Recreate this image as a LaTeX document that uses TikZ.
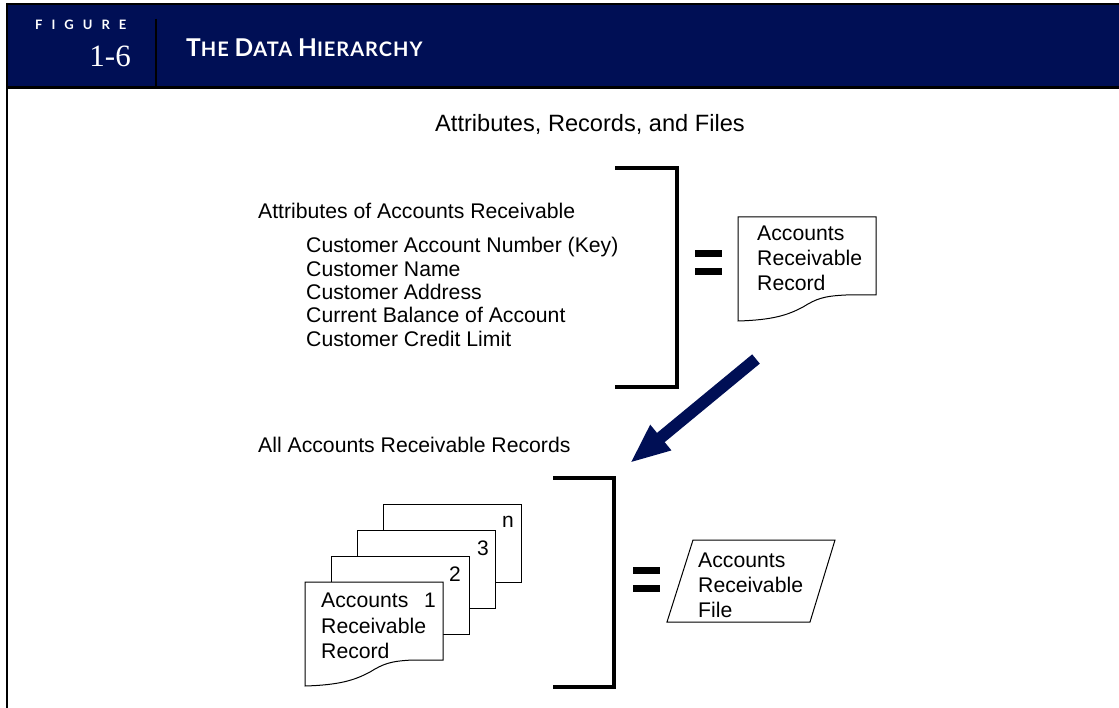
\documentclass[tikz,border=0pt]{standalone}
\usepackage{fontspec}
\setmainfont{Liberation Sans}
\newfontfamily\hdrfont{Lato}
\newfontfamily\numfont{Liberation Serif}
\usetikzlibrary{arrows.meta}
\definecolor{navy}{HTML}{000F55}
\begin{document}
\begin{tikzpicture}[x=1pt,y=-1pt,
  txt/.style={anchor=base west,inner sep=0pt,font=\fontsize{21.2}{24}\selectfont},
  numlbl/.style={anchor=base,inner sep=0pt,font=\fontsize{21}{24}\selectfont},
  docbox/.style={draw=black,line width=1pt,fill=white,line join=miter},
  brk/.style={line width=4pt,line cap=butt,line join=miter},
  eqbar/.style={fill=black},
  hdrline/.style={line width=2.2pt}]
\useasboundingbox (0,0) rectangle (1119,708);
% ---------- header ----------
\fill[navy] (7,4) rectangle (1119,88);
\draw[hdrline] (7,4) -- (1119,4);
\draw[hdrline] (7,87.5) -- (1119,87.5);
\draw[line width=2.5pt] (7,3) -- (7,708);
\draw[line width=2.5pt] (156,19) -- (156,88);
\node[anchor=base west,inner sep=0pt,text=white,font=\hdrfont\bfseries\fontsize{13}{14}\selectfont] (figword) at (35,29.5)
  {F\hspace{9pt}I\hspace{9pt}G\hspace{9pt}U\hspace{9pt}R\hspace{9pt}E};
\node[anchor=base east,inner sep=0pt,text=white,font=\numfont\fontsize{31}{31}\selectfont] (fignum) at (131,67) {1-6};
\node[anchor=base west,inner sep=0pt,text=white,font=\hdrfont\bfseries] (figtitle) at (186,57)
  {\addfontfeature{LetterSpace=5}\fontsize{24.5}{24}\selectfont T\fontsize{20}{24}\selectfont HE
   \fontsize{24.5}{24}\selectfont D\fontsize{20}{24}\selectfont ATA
   \fontsize{24.5}{24}\selectfont H\fontsize{20}{24}\selectfont IERARCHY};
% ---------- body ----------
\node[anchor=base,inner sep=0pt,font=\fontsize{23.6}{26}\selectfont] (title) at (590,132) {Attributes, Records, and Files};
\node[txt] (attrhead) at (258,219) {Attributes of Accounts Receivable};
\node[txt] (attr1) at (306,253) {Customer Account Number (Key)};
\node[txt] (attr2) at (306,277) {Customer Name};
\node[txt] (attr3) at (306,300) {Customer Address};
\node[txt] (attr4) at (306,323) {Current Balance of Account};
\node[txt] (attr5) at (306,347) {Customer Credit Limit};
% bracket 1 and equals
\draw[brk] (615,168) -- (677,168) -- (677,387) -- (615,387);
\fill[eqbar] (695,250) rectangle (722,257);
\fill[eqbar] (695,268) rectangle (722,275);
% record document
\begin{scope}[shift={(738,217)}]
\draw[docbox] (0,0) -- (138,0) -- (138,78) -- (108,78)
  .. controls (85,79) and (78,82) .. (65,90)
  .. controls (50,98) and (35,103) .. (0,104) -- cycle;
\end{scope}
\node[txt] (rec1) at (757,241) {Accounts};
\node[txt] (rec2) at (757,266) {Receivable};
\node[txt] (rec3) at (757,291) {Record};
% arrow
\coordinate (arrS) at (756,359);
\coordinate (arrE) at (630,463);
\draw[navy,line width=12pt,-{Triangle[width=30pt,length=40pt]}] (arrS) -- (arrE);
% all records
\node[txt] (allhead) at (258,452) {All Accounts Receivable Records};
% stacked documents
\draw[docbox] (383,504) rectangle (521,582);
\node[numlbl] (numn) at (508,527) {n};
\draw[docbox] (357,530) rectangle (495,608);
\node[numlbl] (num3) at (483,555) {3};
\draw[docbox] (331,556) rectangle (469,634);
\node[numlbl] (num2) at (455,581) {2};
\begin{scope}[shift={(305,582)}]
\draw[docbox] (0,0) -- (138,0) -- (138,78) -- (108,78)
  .. controls (85,79) and (78,82) .. (65,90)
  .. controls (50,98) and (35,103) .. (0,104) -- cycle;
\end{scope}
\node[numlbl] (num1) at (430,607) {1};
\node[txt] (srec1) at (321,607) {Accounts};
\node[txt] (srec2) at (321,633) {Receivable};
\node[txt] (srec3) at (321,658) {Record};
% bracket 2 and equals
\draw[brk] (553,478) -- (614,478) -- (614,687) -- (553,687);
\fill[eqbar] (633,567) rectangle (660,574);
\fill[eqbar] (633,585) rectangle (660,592);
% file parallelogram
\draw[docbox] (693,540) -- (835,540) -- (810,622) -- (667,622) -- cycle;
\node[txt] (file1) at (698,567) {Accounts};
\node[txt] (file2) at (698,592) {Receivable};
\node[txt] (file3) at (698,617) {File};
\end{tikzpicture}
\end{document}
